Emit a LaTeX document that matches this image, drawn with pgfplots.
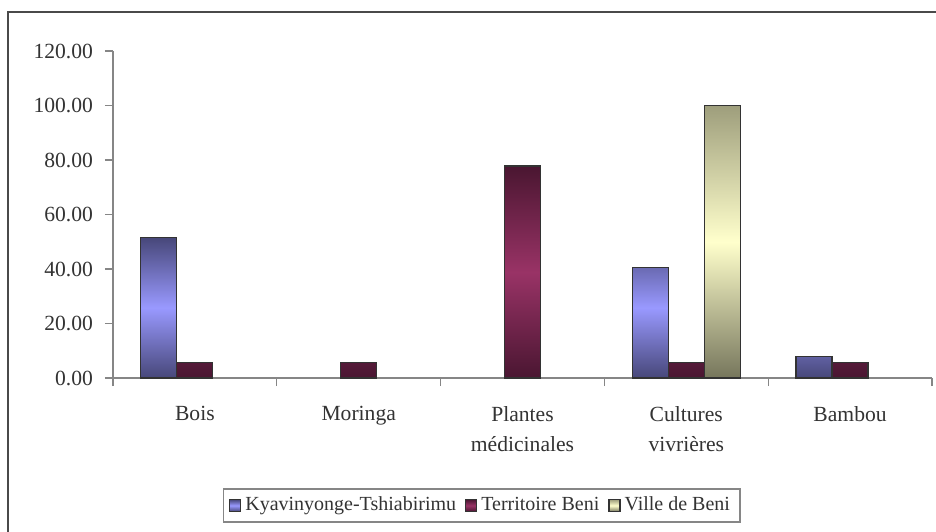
\documentclass[border=0pt]{standalone}
\usepackage{fontspec}
\setmainfont{Liberation Serif}
\usepackage{pgfplots}
\pgfplotsset{compat=1.18}
\definecolor{bluedark}{HTML}{474779}
\definecolor{bluelight}{HTML}{9999FF}
\definecolor{maroondark}{HTML}{4A1631}
\definecolor{maroonlight}{HTML}{993366}
\definecolor{olivetop}{HTML}{9E9E7C}
\definecolor{olivebot}{HTML}{76765C}
\definecolor{olivelight}{HTML}{FFFFCC}
\definecolor{edgecol}{HTML}{333333}
\definecolor{axisgray}{HTML}{868686}
\definecolor{textgray}{HTML}{333333}
\definecolor{framegray}{HTML}{4A4A4A}
\begin{document}
\begin{tikzpicture}[x=1pt,y=1pt]
\useasboundingbox (-56.5,-76.5) rectangle (411.5,189);
\fill[white] (-56.5,-76.5) rectangle (411.5,189);
\draw[draw=framegray, line width=0.8pt] (-52.5,-90) -- (-52.5,183) -- (420,183);
\begin{axis}[
  at={(0,0)}, anchor=south west,
  scale only axis, width=409.5pt, height=163.5pt,
  xmin=-0.5, xmax=4.5, ymin=0, ymax=120,
  axis x line*=bottom, axis y line*=left,
  axis line style={draw=axisgray, line width=0.6pt},
  ybar=0pt, bar width=18pt,
  xtick={0,1,2,3,4},
  xticklabels={Bois, Moringa, {Plantes\\médicinales}, {Cultures\\vivrières}, Bambou},
  minor xtick={-0.5,0.5,1.5,2.5,3.5,4.5},
  major x tick style={draw=none},
  minor x tick style={draw=axisgray, line width=0.6pt},
  ytick={0,20,40,60,80,100,120},
  y tick style={draw=axisgray, line width=0.6pt},
  tick align=outside,
  major tick length=4pt, minor tick length=4pt,
  /pgf/number format/assume math mode=true,
  yticklabel style={/pgf/number format/fixed, /pgf/number format/fixed zerofill, /pgf/number format/precision=2, xshift=-2.5pt},
  tick label style={font=\fontsize{10.8}{13}\selectfont, text=textgray},
  xticklabel style={align=center, font=\fontsize{10.8}{15}\selectfont, yshift=-6.5pt},
  legend style={at={(rel axis cs:0.45,-0.39)}, anchor=center, legend columns=3,
    draw=axisgray, line width=0.6pt, font=\fontsize{10}{12}\selectfont, text=textgray,
    /tikz/every even column/.append style={column sep=2.5pt}},
  every axis plot/.append style={draw=edgecol, line width=0.6pt},
]
\addplot[draw=edgecol, top color=bluedark, bottom color=bluedark, middle color=bluelight,
  legend image code/.code={\draw[draw=edgecol, line width=0.6pt, fill=bluelight] (0pt,-3pt) rectangle (5.5pt,3pt);}]
  coordinates {(0,51.6) (3,40.6) (4,7.8)};
\addplot[draw=edgecol, top color=maroondark, bottom color=maroondark, middle color=maroonlight,
  legend image code/.code={\draw[draw=edgecol, line width=0.6pt, fill=maroonlight] (0pt,-3pt) rectangle (5.5pt,3pt);}]
  coordinates {(0,5.56) (1,5.56) (2,77.78) (3,5.56) (4,5.56)};
\addplot[draw=edgecol, top color=olivetop, bottom color=olivebot, middle color=olivelight,
  legend image code/.code={\draw[draw=edgecol, line width=0.6pt, fill=olivelight] (0pt,-3pt) rectangle (5.5pt,3pt);}]
  coordinates {(3,100)};
\legend{Kyavinyonge-Tshiabirimu, Territoire Beni, Ville de Beni}
\end{axis}
\end{tikzpicture}
\end{document}
